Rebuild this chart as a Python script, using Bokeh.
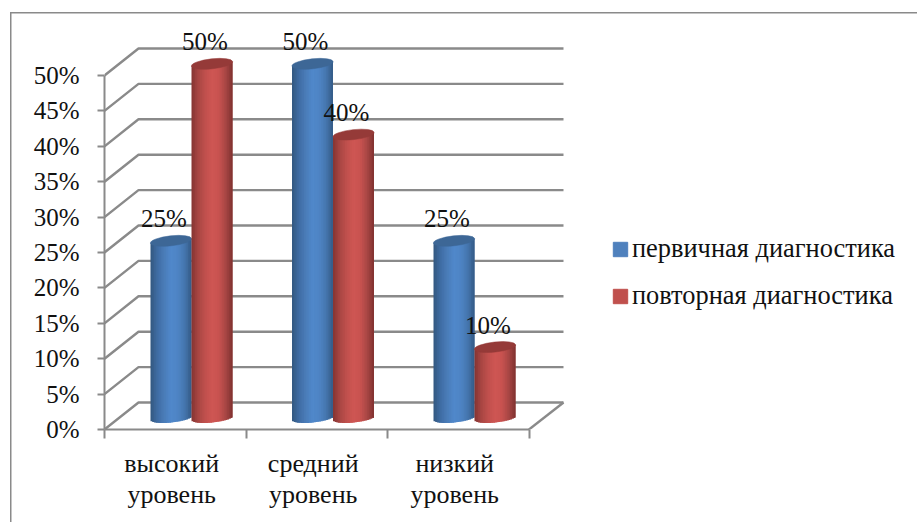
import math
from bokeh.embed import file_html
from bokeh.resources import INLINE
from bokeh.plotting import figure
from bokeh.models import (ColumnDataSource, FixedTicker, Legend, LegendItem,
                          LinearAxis, PrintfTickFormatter, Range1d)
from bokeh.core.properties import value

categories = ["высокий\nуровень", "средний\nуровень", "низкий\nуровень"]
series_names = ["первичная диагностика", "повторная диагностика"]
first_values = [25, 50, 25]
repeat_values = [50, 40, 10]
y_ticks = [0, 5, 10, 15, 20, 25, 30, 35, 40, 45, 50]

SERIF = "Liberation Serif"
GREY = "#8a8a8a"
BLUE, RED = "#4f81bd", "#c0504d"
BLUE_STOPS = ["#33587f", "#3f6ca3", "#4a7cb8", "#5088cb", "#4e84c4", "#4576ae", "#345a86"]
RED_STOPS = ["#853432", "#a84643", "#c0504d", "#cf5653", "#c85350", "#a84644", "#803230"]
BLUE_TOP, RED_TOP = "#3d6796", "#953a38"

# scale: 141.5 px per category, 7.08 px per percent
PX_X, PX_Y = 141.5, 7.08
DEPTH_X, DEPTH_Y = 34 / PX_X, 27 / PX_Y
WALL_END = 459 / PX_X


def shade(stops, t):
    pos = t * (len(stops) - 1)
    i = min(int(pos), len(stops) - 2)
    f = pos - i
    a, b = stops[i], stops[i + 1]
    ch = [round(int(a[k:k + 2], 16) * (1 - f) + int(b[k:k + 2], 16) * f) for k in (1, 3, 5)]
    return "#%02x%02x%02x" % tuple(ch)


p = figure(frame_width=805, frame_height=415, output_backend="svg", toolbar_location=None,
           x_range=Range1d(0, 805 / PX_X), y_range=Range1d(0, 415 / PX_Y),
           min_border_left=104, min_border_top=14, min_border_bottom=94, min_border_right=8,
           x_axis_type=None, y_axis_type=None, outline_line_color=None,
           background_fill_color=None, border_fill_color=None)
p.grid.visible = False

# outer chart frame (left and top edges only), painted behind the transparent canvas
p.styles = {
    "background-color": "white",
    "background-image": f"linear-gradient({GREY},{GREY}),linear-gradient({GREY},{GREY})",
    "background-size": "907px 1.5px, 1.5px 510px",
    "background-position": "10px 12px, 10px 12px",
    "background-repeat": "no-repeat",
}

# walls and floor
xs = [[0, DEPTH_X, WALL_END] for _ in y_ticks]
ys = [[t, t + DEPTH_Y, t + DEPTH_Y] for t in y_ticks]
p.multi_line(xs, ys, line_color=GREY, line_width=2.4)
p.line([3, WALL_END], [0, DEPTH_Y], line_color=GREY, line_width=2.4)

# cylinders
BASE = 1.65
OFF = 46 / PX_X
W = 41 / PX_X
TILT = 2.3 / PX_Y
B = 4.6 / PX_Y
N = 24


def cylinders(vals, shift, stops, top_color):
    left, right, bottom, top, col = [], [], [], [], []
    cx, cy = [], []
    for g, v in enumerate(vals):
        x0 = g + OFF + shift * W
        for k in range(N):
            u = -1 + (2 * k + 1) / N
            left.append(x0 + k * W / N)
            right.append(x0 + min(k + 2, N) * W / N)
            bottom.append(BASE + TILT * u - B * math.sqrt(1 - u * u))
            top.append(BASE + v + TILT * u)
            col.append(shade(stops, (k + 0.5) / N))
        cx.append(x0 + W / 2)
        cy.append(BASE + v)
    p.quad(left=left, right=right, bottom=bottom, top=top, fill_color=col, line_color=None)
    p.ellipse(x=cx, y=cy, width=41.5, height=10, width_units="screen", height_units="screen",
              angle=0.11, fill_color=top_color, line_color=top_color, line_width=0.5)
    return cx, cy


c1 = cylinders(first_values, 0, BLUE_STOPS, BLUE_TOP)
c2 = cylinders(repeat_values, 1, RED_STOPS, RED_TOP)

# data labels
lab = ColumnDataSource(dict(
    x=c1[0] + c2[0], y=c1[1] + c2[1],
    t=[f"{v}%" for v in first_values + repeat_values]))
p.text("x", "y", text="t", source=lab, text_font=value(SERIF), text_font_size="25px",
       text_color="#111111", text_align="center", text_baseline="middle", x_offset=-7, y_offset=-22)

# axes
yax = LinearAxis(ticker=FixedTicker(ticks=y_ticks), formatter=PrintfTickFormatter(format="%d%%"),
                 bounds=(0, 50), axis_line_color=GREY, axis_line_width=2,
                 major_tick_line_color=GREY, major_tick_line_width=2, major_tick_out=7, major_tick_in=0,
                 minor_tick_line_color=None, major_label_standoff=18,
                 major_label_text_font=SERIF, major_label_text_font_size="25px",
                 major_label_text_color="#111111")
p.add_layout(yax, "left")

label_pos = [g + 0.475 for g in range(len(categories))]
xax = LinearAxis(ticker=FixedTicker(ticks=label_pos, minor_ticks=list(range(len(categories) + 1))),
                 major_label_overrides=dict(zip(label_pos, categories)),
                 bounds=(0, 3), axis_line_color=GREY, axis_line_width=2,
                 major_tick_line_color=None, major_tick_out=0, major_tick_in=0,
                 minor_tick_line_color=GREY, minor_tick_line_width=2, minor_tick_out=9, minor_tick_in=0,
                 major_label_standoff=10, major_label_text_font=SERIF, major_label_text_font_size="26px",
                 major_label_text_color="#111111", major_label_text_line_height=1.07)
p.add_layout(xax, "below")

# legend
nan = float("nan")
r1 = p.quad(left=[nan], right=[nan], bottom=[nan], top=[nan], fill_color=BLUE, line_color=BLUE)
r2 = p.quad(left=[nan], right=[nan], bottom=[nan], top=[nan], fill_color=RED, line_color=RED)
legend = Legend(items=[LegendItem(label=series_names[0], renderers=[r1]),
                       LegendItem(label=series_names[1], renderers=[r2])],
                location=(507, 118), glyph_width=18, glyph_height=18, label_standoff=3, spacing=16,
                label_text_font=SERIF, label_text_font_size="26.4px", label_text_color="#111111",
                border_line_color=None, background_fill_alpha=0, padding=0, margin=0)
p.add_layout(legend, "center")

open("out.html", "w").write(file_html(p, INLINE))
